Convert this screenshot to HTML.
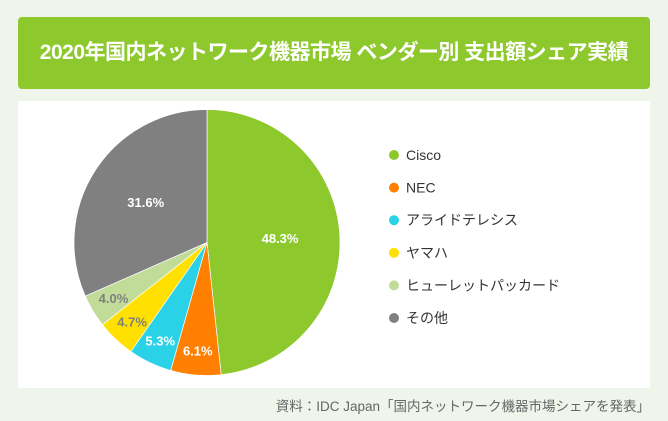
<!DOCTYPE html>
<html><head><meta charset="utf-8"><style>
body{margin:0;width:668px;height:421px;background:#f0f5ec;font-family:"Liberation Sans","Noto Sans CJK JP",sans-serif;position:relative;overflow:hidden}
#title{position:absolute;left:18px;top:17px;width:632px;height:72px;background:#8dc82d;border-radius:4px;color:#fff;font-weight:bold;font-size:21px;line-height:72px;text-align:center;letter-spacing:-0.5px}
#panel{position:absolute;left:18px;top:101px;width:632px;height:287px;background:#fff}
#src{position:absolute;right:18px;top:395px;font-size:13.5px;color:#666}
svg{position:absolute;left:0;top:0}
</style></head><body>
<div id="title">2020年国内ネットワーク機器市場 ベンダー別 支出額シェア実績</div>
<div id="panel"></div>
<svg id="chart" width="668" height="421"></svg>
<div id="src">資料：IDC Japan「国内ネットワーク機器市場シェアを発表」</div>
<script>
const categories=["Cisco","NEC","アライドテレシス","ヤマハ","ヒューレットパッカード","その他"];
const values=[48.3,6.1,5.3,4.7,4.0,31.6];
const labels=["48.3%","6.1%","5.3%","4.7%","4.0%","31.6%"];
const colors=["#8dc82d","#ff8000","#29d2e6","#ffe000","#c0dc98","#808080"];
const labelColors=["#fff","#fff","#fff","#808080","#808080","#fff"];
const NS="http://www.w3.org/2000/svg";
const svg=document.getElementById('chart');
const cx=207,cy=242.5,r=133;
const total=values.reduce((a,b)=>a+b,0);
let a0=0;
function pt(a,rr){return [cx+rr*Math.sin(a),cy-rr*Math.cos(a)];}
values.forEach((v,i)=>{
  const a1=a0+v/total*2*Math.PI;
  const p0=pt(a0,r),p1=pt(a1,r);
  const large=(a1-a0)>Math.PI?1:0;
  const path=document.createElementNS(NS,'path');
  path.setAttribute('d',`M${cx},${cy}L${p0[0]},${p0[1]}A${r},${r} 0 ${large} 1 ${p1[0]},${p1[1]}Z`);
  path.setAttribute('fill',colors[i]);
  path.setAttribute('stroke','#fff');
  path.setAttribute('stroke-width','0.7');
  
  
  svg.appendChild(path);
  const am=(a0+a1)/2;
  const frac=v/total;
  const lr=frac<0.08?r*0.82:r*0.55;
  const lp=pt(am,lr);
  const t=document.createElementNS(NS,'text');
  t.setAttribute('x',lp[0]);t.setAttribute('y',lp[1]+4.5);
  t.setAttribute('text-anchor','middle');
  t.setAttribute('font-size','13');t.setAttribute('font-weight','bold');
  t.setAttribute('fill',labelColors[i]);
  t.textContent=labels[i];
  
  
  svg.appendChild(t);
  a0=a1;
});
categories.forEach((c,i)=>{
  const y=155+i*32.6;
  const g=document.createElementNS(NS,'g');
  
  
  const d=document.createElementNS(NS,'circle');
  d.setAttribute('cx',394);d.setAttribute('cy',y);d.setAttribute('r',5);d.setAttribute('fill',colors[i]);
  g.appendChild(d);
  const t=document.createElementNS(NS,'text');
  t.setAttribute('x',406);t.setAttribute('y',y+5);t.setAttribute('font-size','14');t.setAttribute('fill','#333');
  t.textContent=c;
  g.appendChild(t);
  svg.appendChild(g);
});
</script>
</body></html>
